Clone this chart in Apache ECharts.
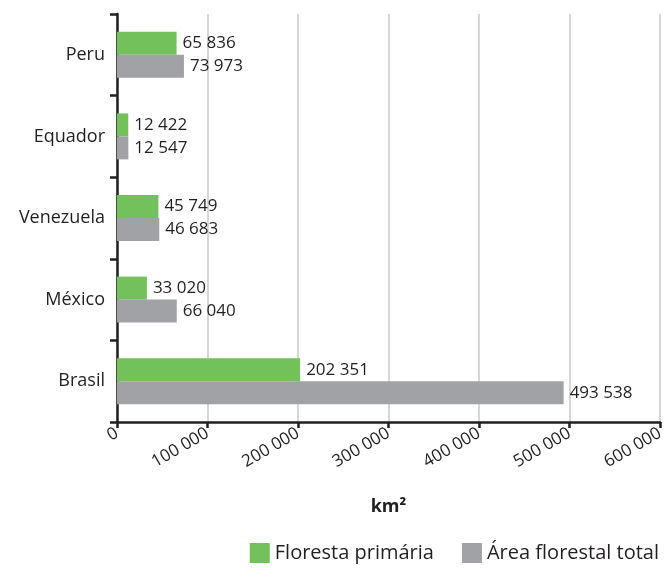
<!DOCTYPE html>
<html>
<head>
<meta charset="utf-8">
<script src="https://cdn.jsdelivr.net/npm/echarts@6/dist/echarts.min.js"></script>
<style>
  html, body { margin: 0; padding: 0; background: #fff; }
  #chart { width: 670px; height: 570px; }
</style>
</head>
<body>
<div id="chart"></div>
<script>
// countries, bottom to top (category axis starts at the bottom)
const countries = ['Brasil', 'México', 'Venezuela', 'Equador', 'Peru']
const primaryForest = [202351, 33020, 45749, 12422, 65836]
const totalForest = [493538, 66040, 46683, 12547, 73973]
const seriesNames = ['Floresta primária', 'Área florestal total']
const axisTicks = [0, 100000, 200000, 300000, 400000, 500000, 600000]

const textColor = '#231f20'
const fontFamily = '"Open Sans", "Noto Sans", sans-serif'

function spaced(v) {
  return String(v).replace(/\B(?=(\d{3})+(?!\d))/g, ' ')
}

const chart = echarts.init(document.getElementById('chart'))

chart.setOption({
  animation: false,
  textStyle: { fontFamily: fontFamily, color: textColor },
  grid: {
    left: 117,
    right: 10,
    top: 14,
    bottom: 148
  },
  legend: {
    data: seriesNames,
    right: 6,
    bottom: 2,
    itemWidth: 20,
    itemHeight: 20,
    itemGap: 28,
    icon: 'rect',
    textStyle: { fontSize: 20, color: textColor, fontFamily: fontFamily }
  },
  xAxis: {
    type: 'value',
    min: axisTicks[0],
    max: axisTicks[axisTicks.length - 1],
    interval: 100000,
    name: 'km²',
    nameLocation: 'middle',
    nameGap: 76,
    nameTextStyle: { fontSize: 18, fontWeight: 'bold', color: textColor },
    axisLine: { show: true, lineStyle: { color: '#231f20', width: 2.5 } },
    axisTick: { show: true, length: 6, lineStyle: { color: '#231f20', width: 2.5 } },
    axisLabel: {
      rotate: 30,
      fontSize: 17,
      color: textColor,
      margin: 10,
      formatter: spaced
    },
    splitLine: { show: true, lineStyle: { color: '#c8c9cb', width: 1.5 } }
  },
  yAxis: {
    type: 'category',
    data: countries,
    axisLine: { show: true, lineStyle: { color: '#231f20', width: 2.5 } },
    axisTick: { show: true, length: 7, lineStyle: { color: '#231f20', width: 2.5 } },
    axisLabel: { fontSize: 18, color: textColor, margin: 12 },
    splitLine: { show: false }
  },
  series: [{
    name: seriesNames[0],
    type: 'bar',
    data: primaryForest,
    barWidth: 23,
    barGap: '0%',
    itemStyle: { color: '#72c15a' },
    label: {
      show: true,
      position: 'right',
      distance: 6,
      fontSize: 17,
      color: textColor,
      formatter: p => spaced(p.value)
    }
  }, {
    name: seriesNames[1],
    type: 'bar',
    data: totalForest,
    barWidth: 23,
    barGap: '0%',
    itemStyle: { color: '#a0a2a5' },
    label: {
      show: true,
      position: 'right',
      distance: 6,
      fontSize: 17,
      color: textColor,
      formatter: p => spaced(p.value)
    }
  }]
})
</script>
</body>
</html>
